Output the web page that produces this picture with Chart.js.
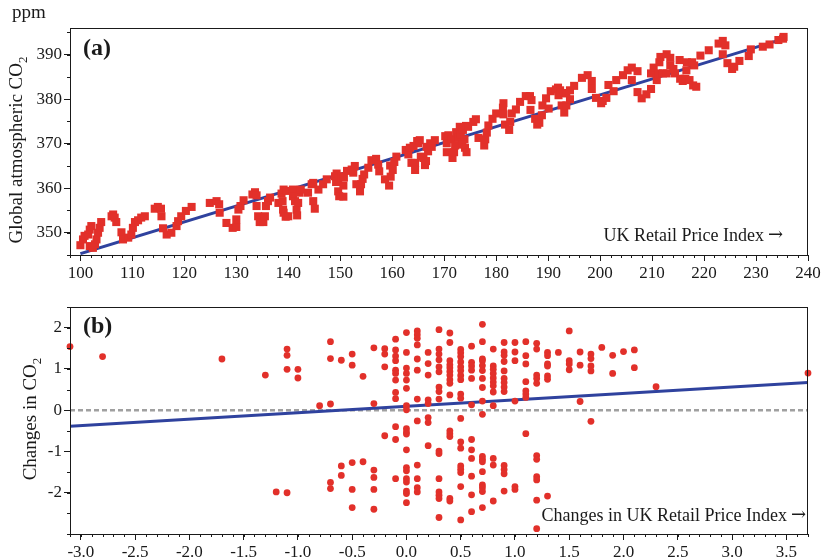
<!DOCTYPE html>
<html>
<head>
<meta charset="utf-8">
<script src="https://cdn.jsdelivr.net/npm/chart.js@4.4.1/dist/chart.umd.min.js"></script>
<style>
  html, body { margin: 0; padding: 0; background: #fff; }
  #wrap { position: relative; width: 824px; height: 557px; }
  canvas { position: absolute; left: 0; }
  #top { top: 0; }
  #bottom { top: 280px; }
</style>
</head>
<body>
<div id="wrap">
  <canvas id="top" width="824" height="280"></canvas>
  <canvas id="bottom" width="824" height="277"></canvas>
</div>
<script>
// Panel (a): monthly UK RPI level vs global CO2 (ppm)
const levelPairs = [
  [100.0,347.2],[100.5,348.5],[100.8,349.3],[101.5,349.6],[101.8,350.7],[102.1,351.5],
  [101.8,347.0],[102.4,346.6],[102.8,347.4],[103.1,348.5],[103.4,350.0],[103.7,351.1],
  [104.0,352.4],[106.0,353.7],[106.3,354.1],[106.6,353.4],[106.9,352.4],[107.9,350.1],
  [108.2,348.5],[109.2,348.9],[109.8,349.6],[110.1,351.1],[110.5,352.4],[111.1,352.8],
  [111.7,353.4],[112.4,353.7],[114.3,355.4],[114.9,355.8],[115.5,355.4],[115.6,353.7],
  [115.9,351.0],[116.6,349.6],[117.5,350.0],[118.5,351.5],[118.8,352.6],[119.4,353.7],
  [120.3,354.9],[121.4,355.8],[124.9,356.7],[126.2,357.1],[126.7,356.4],[126.8,354.5],
  [128.1,352.2],[129.3,351.1],[130.0,351.3],[130.0,353.0],[130.4,355.2],[130.8,356.0],
  [131.4,357.3],[133.1,358.6],[133.6,359.1],[133.9,358.4],[133.9,356.0],[134.2,353.7],
  [134.5,352.4],[135.2,352.4],[135.5,353.7],[135.7,356.0],[136.1,357.1],[136.5,357.9],
  [138.1,356.7],[138.7,358.8],[139.1,359.7],[139.7,359.4],[138.9,357.1],[139.0,355.2],
  [139.1,354.5],[139.5,353.6],[140.0,353.7],[140.9,359.7],[140.9,358.2],[141.3,357.1],
  [141.6,355.2],[141.7,353.9],[141.9,356.7],[142.2,359.0],[142.4,359.7],[143.8,359.0],
  [144.5,360.9],[144.8,361.2],[144.8,357.1],[145.1,355.4],[145.8,359.7],[146.7,360.9],
  [147.4,362.0],[149.0,362.7],[149.3,363.3],[149.6,362.1],[149.2,361.4],[149.6,359.3],
  [149.8,358.2],[150.6,358.1],[150.6,360.6],[150.3,362.7],[150.7,362.4],[151.3,363.9],
  [152.2,364.2],[152.8,365.0],[152.5,363.5],[153.1,360.9],[153.8,359.3],[154.0,360.9],
  [154.3,362.1],[154.6,363.1],[155.4,364.6],[156.0,366.3],[156.9,366.6],[157.3,365.3],
  [157.5,363.8],[158.6,362.0],[159.4,360.6],[159.7,362.6],[159.6,365.1],[160.1,364.1],
  [160.4,365.9],[160.8,367.1],[162.6,368.6],[163.1,367.6],[163.4,369.1],[164.1,369.5],
  [163.7,365.7],[164.4,365.7],[164.4,364.1],[164.8,370.6],[165.0,370.1],[165.3,370.8],
  [165.5,367.1],[166.0,366.8],[166.3,365.2],[166.5,366.1],[166.6,369.3],[166.9,368.3],
  [167.3,370.1],[167.6,369.3],[168.2,370.8],[170.2,371.7],[170.5,370.1],[170.5,368.1],
  [170.8,371.9],[171.4,371.0],[171.6,366.8],[171.9,368.1],[172.1,369.6],[172.3,372.6],
  [172.7,371.3],[173.0,373.8],[173.2,372.1],[173.6,373.1],[173.9,371.0],[173.5,369.8],
  [174.0,369.1],[174.3,368.1],[174.2,374.0],[174.6,373.8],[175.6,374.9],[176.1,375.5],
  [176.6,371.3],[177.7,369.6],[177.9,371.0],[178.2,372.5],[178.5,374.1],[179.3,375.6],
  [180.0,376.8],[181.3,378.1],[181.4,379.1],[181.4,376.6],[181.7,374.3],[182.5,373.1],
  [182.7,374.9],[183.0,376.8],[183.8,377.7],[184.6,379.4],[185.7,380.7],[186.5,380.7],
  [186.8,379.8],[186.6,377.6],[187.5,375.6],[187.9,374.3],[188.3,374.7],[188.8,376.4],
  [188.9,378.6],[189.6,380.2],[190.1,377.9],[190.5,381.8],[191.5,382.2],[191.9,382.6],
  [192.0,380.9],[192.3,382.0],[192.4,381.4],[192.6,378.6],[193.1,377.0],[193.3,381.4],
  [193.5,378.6],[193.5,381.3],[194.2,380.0],[194.2,382.0],[195.0,383.0],[196.5,384.8],
  [197.6,385.4],[198.4,384.1],[198.4,382.3],[199.2,380.3],[200.2,379.1],[200.5,379.6],
  [201.2,380.3],[201.6,383.2],[202.6,381.8],[203.1,384.3],[204.4,385.4],[205.3,386.5],
  [206.1,387.1],[206.1,384.3],[207.2,386.3],[207.2,381.6],[208.0,380.2],[208.9,381.1],
  [209.8,382.3],[209.8,385.8],[210.3,387.1],[210.9,384.3],[211.2,385.8],[211.4,388.3],
  [211.6,389.5],[212.1,385.8],[212.8,385.8],[212.8,390.1],[213.5,389.3],[213.5,387.6],
  [214.1,386.8],[214.4,385.8],[215.3,388.8],[215.4,384.6],[215.9,384.1],[216.4,384.6],
  [216.6,386.5],[216.7,388.3],[217.2,384.3],[217.7,388.3],[217.9,383.1],[218.1,387.6],
  [218.5,382.8],[219.3,389.8],[220.9,391.0],[222.8,392.5],[223.6,393.1],[224.1,392.1],
  [223.6,390.1],[224.5,388.1],[225.4,386.8],[225.8,387.3],[226.8,388.6],[228.6,389.7],
  [229.0,391.2],[231.3,391.8],[232.6,392.3],[234.3,393.3],[235.3,394.0],[235.2,393.6]
];
const levelFitX = [100, 234.8];
const levelFitY = [345.3, 393.4];

// Panel (b): monthly changes; each entry is [RPI change, CO2 changes in that column]
const changeColumns = [
  [-3.1, [1.54]],
  [-2.8, [1.30]],
  [-1.7, [1.24]],
  [-1.3, [0.85]],
  [-1.2, [-1.98]],
  [-1.1, [1.48, 1.33, 0.99, -2.0]],
  [-1.0, [0.99, 0.78]],
  [-0.8, [0.11]],
  [-0.7, [1.66, 1.25, 0.15, -1.75, -1.90]],
  [-0.6, [1.21, -1.35, -1.58]],
  [-0.5, [1.36, 1.09, -1.27, -1.92, -2.36]],
  [-0.4, [0.82, -1.25]],
  [-0.3, [1.51, 0.16, -1.45, -1.63, -1.92, -2.40]],
  [-0.2, [1.49, 1.36, 1.05, -0.62]],
  [-0.1, [1.72, 1.46, 1.31, 1.20, 0.97, 0.89, 0.73, 0.43, 0.28, -0.40, -0.71, -1.66]],
  [0.0, [1.88, 1.40, 1.02, 0.89, 0.73, 0.53, 0.11, 0.01, -0.45, -0.53, -0.58, -0.96, -1.39, -1.47, -1.66, -1.74, -1.96, -2.02, -2.24]],
  [0.1, [1.92, 1.83, 1.74, 1.58, 1.24, 0.97, 0.27, -0.26, -1.33, -1.66, -1.88, -1.98]],
  [0.2, [1.40, 1.13, 0.85, 0.25, 0.16, -0.18, -0.30, -0.86]],
  [0.3, [1.95, 1.48, 1.36, 1.22, 1.05, 0.93, 0.56, 0.45, 0.27, -0.99, -1.05, -1.66, -1.98, -2.06, -2.14, -2.60]],
  [0.4, [1.87, 1.64, 1.20, 1.10, 1.03, 0.94, 0.85, 0.74, 0.65, 0.37, -0.50, -0.57, -0.64, -2.14, -2.20]],
  [0.5, [1.47, 1.39, 1.30, 1.17, 1.05, 0.96, 0.84, 0.74, 0.39, 0.29, -0.20, -0.77, -0.92, -1.35, -1.43, -1.51, -1.85, -2.66]],
  [0.6, [1.55, 1.16, 1.07, 0.97, 0.77, 0.13, -0.71, -0.96, -1.17, -1.60, -2.05, -2.46]],
  [0.7, [2.08, 1.66, 1.24, 1.20, 1.08, 0.96, 0.77, 0.55, 0.22, -0.10, -1.12, -1.19, -1.25, -1.49, -1.81, -1.88, -1.97, -2.36]],
  [0.8, [1.48, 1.07, 0.99, 0.89, 0.78, 0.68, 0.59, 0.44, 0.11, -1.17, -1.33, -2.20]],
  [0.9, [1.64, 1.41, 1.33, 1.18, 0.95, 0.77, 0.67, 0.56, 0.45, -1.34, -1.44, -1.54, -1.96]],
  [1.0, [1.64, 1.41, 1.20, 0.22, -1.85, -1.92]],
  [1.1, [1.66, 1.32, 1.12, 0.69, 0.47, 0.39, 0.31, -0.57]],
  [1.2, [1.62, 1.48, 0.85, 0.77, 0.65, -1.10, -1.19, -1.61, -1.69, -2.18, -2.87]],
  [1.3, [1.40, 1.32, 1.12, 1.07, 0.83, 0.75, -2.08]],
  [1.4, [1.40]],
  [1.5, [1.92, 1.20, 1.12, 0.98]],
  [1.6, [1.41, 1.09, 0.21]],
  [1.7, [1.36, 1.25, 1.07, 0.95, -0.27]],
  [1.8, [1.52]],
  [1.9, [1.33, 0.89]],
  [2.0, [1.42]],
  [2.1, [1.46, 1.03]],
  [2.3, [0.57]],
  [3.7, [0.90]]
];
const changeFitX = [-3.1, 3.7];
const changeFitY = [-0.39, 0.67];

// tick labels
const levelXTicks = [100, 110, 120, 130, 140, 150, 160, 170, 180, 190, 200, 210, 220, 230, 240];
const levelYTicks = [350, 360, 370, 380, 390];
const changeXTicks = [-3.0, -2.5, -2.0, -1.5, -1.0, -0.5, 0.0, 0.5, 1.0, 1.5, 2.0, 2.5, 3.0, 3.5];
const changeYTicks = [-2, -1, 0, 1, 2];

const SERIF = "'Liberation Serif', 'Times New Roman', serif";
const RED = '#e2302a';
const BLUE = '#2f429e';
const INK = '#1a1a1a';

Chart.defaults.font.family = SERIF;
Chart.defaults.color = INK;

// Minor ticks and the box frame round the plot area
const frameTicks = {
    id: 'frameTicks',
    afterDraw(chart, args, opts) {
        const { ctx, chartArea: a, scales: { x, y } } = chart;
        ctx.save();
        ctx.strokeStyle = INK;
        ctx.lineWidth = 1;
        ctx.strokeRect(a.left + 0.5, a.top + 0.5, a.right - a.left - 1, a.bottom - a.top);
        ctx.beginPath();
        for (let i = Math.ceil(x.min / opts.xMinor - 1e-6); i * opts.xMinor <= x.max + 1e-6; i++) {
            const px = Math.round(x.getPixelForValue(i * opts.xMinor)) + 0.5;
            ctx.moveTo(px, a.bottom); ctx.lineTo(px, a.bottom + 3);
        }
        for (let i = Math.ceil(y.min / opts.yMinor - 1e-6); i * opts.yMinor <= y.max + 1e-6; i++) {
            const py = Math.round(y.getPixelForValue(i * opts.yMinor)) + 0.5;
            ctx.moveTo(a.left, py); ctx.lineTo(a.left - 3, py);
        }
        ctx.stroke();
        ctx.restore();
    }
};

// Panel letter, rotated y title with subscript, inner x label with arrow
const panelText = {
    id: 'panelText',
    afterDraw(chart, args, o) {
        const ctx = chart.ctx;
        ctx.save();
        ctx.fillStyle = INK;
        ctx.textBaseline = 'alphabetic';
        ctx.textAlign = 'left';
        ctx.font = `bold 24px ${SERIF}`;
        ctx.fillText(o.letter, 83, o.letterY);
        if (o.unit) {
            ctx.font = `19px ${SERIF}`;
            ctx.fillText(o.unit, 12, 18);
        }
        // arrow in a font whose arrow is wider, then the words to its left
        ctx.textAlign = 'right';
        ctx.font = `18px 'DejaVu Serif', serif`;
        ctx.fillText('\u2192', o.xLabelRight, o.xLabelY - 1);
        const aw = ctx.measureText('\u2192').width;
        ctx.font = `18px ${SERIF}`;
        ctx.fillText(o.xLabel, o.xLabelRight - aw - 4, o.xLabelY);

        // y title, rotated, with subscript 2
        ctx.translate(o.titleX, o.titleY);
        ctx.rotate(-Math.PI / 2);
        ctx.textAlign = 'left';
        ctx.font = `19px ${SERIF}`;
        const w1 = ctx.measureText(o.title).width;
        ctx.font = `13px ${SERIF}`;
        const w2 = ctx.measureText(o.sub).width;
        const x0 = -(w1 + w2) / 2;
        ctx.font = `19px ${SERIF}`;
        ctx.fillText(o.title, x0, 0);
        ctx.font = `13px ${SERIF}`;
        ctx.fillText(o.sub, x0 + w1, 5);
        ctx.restore();
    }
};

function axis(min, max, tickList, fmt, fit) {
    return {
        type: 'linear',
        min: min,
        max: max,
        afterBuildTicks: s => { s.ticks = tickList.map(v => ({ value: v })); },
        afterFit: fit,
        border: { display: false },
        grid: { drawOnChartArea: false, drawTicks: true, tickLength: 6, color: INK },
        ticks: { font: { size: 17 }, color: INK, padding: 2, maxRotation: 0, autoSkip: false, callback: fmt }
    };
}

// Panel (a)
new Chart(document.getElementById('top'), {
    type: 'scatter',
    data: {
        datasets: [
            {
                data: levelPairs.map(p => ({ x: p[0], y: p[1] })),
                pointStyle: 'rect', pointRadius: 5.7, pointBackgroundColor: RED,
                pointBorderWidth: 0, clip: false, order: 0
            },
            {
                type: 'line', showLine: true,
                data: levelFitX.map((v, i) => ({ x: v, y: levelFitY[i] })),
                borderColor: BLUE, borderWidth: 3, pointRadius: 0, fill: false, order: 1
            }
        ]
    },
    options: {
        responsive: false,
        animation: false,
        layout: { padding: { top: 28, right: 16, left: 0, bottom: 0 } },
        plugins: {
            legend: { display: false },
            tooltip: { enabled: false },
            frameTicks: { xMinor: 2, yMinor: 5 },
            panelText: {
                letter: '(a)', letterY: 55, unit: 'ppm',
                xLabel: 'UK Retail Price Index', xLabelRight: 783, xLabelY: 241,
                title: 'Global atmospheric CO', sub: '2', titleX: 22, titleY: 150
            }
        },
        scales: {
            x: axis(98, 240, levelXTicks, v => String(v), s => { s.height = 25; }),
            y: axis(345, 396, levelYTicks, v => String(v), s => { s.width = 70; })
        }
    },
    plugins: [frameTicks, panelText]
});

// Panel (b)
new Chart(document.getElementById('bottom'), {
    type: 'scatter',
    data: {
        datasets: [
            {
                data: changeColumns.flatMap(c => c[1].map(v => ({ x: c[0], y: v }))),
                pointStyle: 'circle', pointRadius: 3.4, pointBackgroundColor: RED,
                pointBorderWidth: 0, clip: false, order: 0
            },
            {
                type: 'line', showLine: true,
                data: changeFitX.map((v, i) => ({ x: v, y: changeFitY[i] })),
                borderColor: BLUE, borderWidth: 3, pointRadius: 0, fill: false, order: 1
            },
            {
                type: 'line', showLine: true,
                data: changeFitX.map(v => ({ x: v, y: 0 })),
                borderColor: '#a0a0a0', borderWidth: 2.5, borderDash: [5, 3],
                pointRadius: 0, fill: false, order: 2
            }
        ]
    },
    options: {
        responsive: false,
        animation: false,
        layout: { padding: { top: 27, right: 16, left: 0, bottom: 0 } },
        plugins: {
            legend: { display: false },
            tooltip: { enabled: false },
            frameTicks: { xMinor: 0.1, yMinor: 0.5 },
            panelText: {
                letter: '(b)', letterY: 53,
                xLabel: 'Changes in UK Retail Price Index', xLabelRight: 806, xLabelY: 241,
                title: 'Changes in CO', sub: '2', titleX: 36, titleY: 139
            }
        },
        scales: {
            x: axis(-3.1, 3.7, changeXTicks, v => v.toFixed(1), s => { s.height = 23; }),
            y: axis(-3, 2.5, changeYTicks, v => String(v), s => { s.width = 70; })
        }
    },
    plugins: [frameTicks, panelText]
});
</script>
</body>
</html>
